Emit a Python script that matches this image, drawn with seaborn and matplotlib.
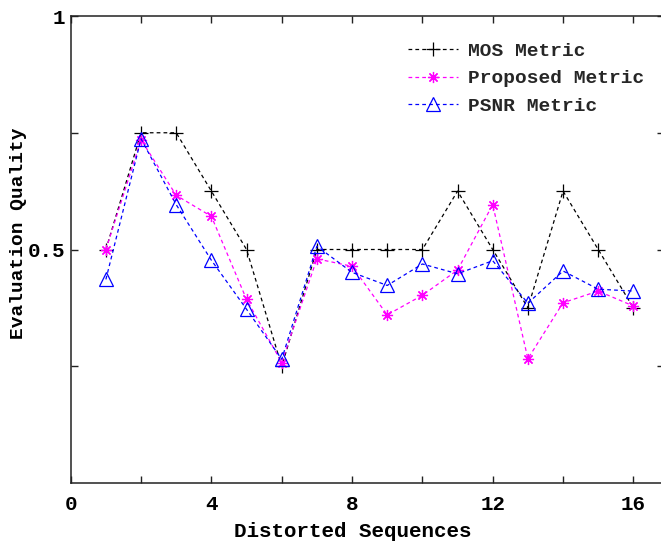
import matplotlib
matplotlib.use("Agg")
import matplotlib.pyplot as plt
import seaborn as sns
import numpy as np
import pandas as pd

# ---- data ----
sequences = list(range(1, 17))
mos_metric = [0.5, 0.75, 0.75, 0.625, 0.5, 0.25, 0.5, 0.5, 0.5, 0.5, 0.625, 0.5, 0.375, 0.625, 0.5, 0.375]
proposed_metric = [0.5, 0.735, 0.616, 0.571, 0.393, 0.258, 0.48, 0.464, 0.36, 0.402, 0.456, 0.596, 0.266, 0.386, 0.411, 0.379]
psnr_metric = [0.436, 0.737, 0.596, 0.477, 0.372, 0.265, 0.507, 0.451, 0.423, 0.469, 0.448, 0.476, 0.385, 0.454, 0.415, 0.411]

x_ticks = [0, 2, 4, 6, 8, 10, 12, 14, 16]
x_ticklabels = ["0", "", "4", "", "8", "", "12", "", "16"]
y_ticks = [0.25, 0.5, 0.75, 1.0]
y_ticklabels = ["", "0.5", "", "1"]

series_names = ["MOS Metric", "Proposed Metric", "PSNR Metric"]

sns.set_theme(style="white")
plt.rcParams["font.family"] = ["Liberation Mono", "DejaVu Sans Mono"]

fig = plt.figure(figsize=(6.61, 5.45), dpi=100)
ax = fig.add_axes([0.107, 0.1138, 1.0045 - 0.107, 0.9706 - 0.1138])

sns.lineplot(x=sequences, y=mos_metric, ax=ax, color="black", marker="+",
             markersize=10, markeredgecolor="black", markeredgewidth=0.9,
             linestyle=(0, (3, 2.5)), linewidth=0.9, label=series_names[0])
sns.lineplot(x=sequences, y=proposed_metric, ax=ax, color="#ff00ff", marker=(8, 2, 0),
             markersize=8, markeredgecolor="#ff00ff", markeredgewidth=0.9,
             linestyle=(0, (3, 2.5)), linewidth=0.9, label=series_names[1])
sns.lineplot(x=sequences, y=psnr_metric, ax=ax, color="#0000ff", marker="^",
             markersize=10, markerfacecolor="none", markeredgecolor="#0000ff",
             markeredgewidth=0.9, linestyle=(0, (3, 2.5)), linewidth=0.9,
             label=series_names[2])

ax.set_xlim(0, 16.87)
ax.set_ylim(0, 1)
ax.set_xticks(x_ticks)
ax.set_xticklabels(x_ticklabels)
ax.set_yticks(y_ticks)
ax.set_yticklabels(y_ticklabels)

for s in ax.spines.values():
    s.set_color("#222222")
    s.set_linewidth(1.1)

ax.tick_params(axis="both", direction="in", length=5, width=1, color="#222222",
               top=True, right=True, bottom=True, left=True, labelsize=15,
               labelcolor="black", pad=4)
for lab in ax.get_xticklabels() + ax.get_yticklabels():
    lab.set_fontweight("bold")
ax.tick_params(axis="x", pad=9)

ax.set_xlabel("Distorted Sequences", fontsize=15, fontweight="bold", color="black")
ax.set_ylabel("Evaluation Quality", fontsize=14, fontweight="bold", color="black")
ax.xaxis.set_label_coords(0.475, -0.083)
ax.yaxis.set_label_coords(-0.074, 0.535)

ax.grid(False)
leg = ax.legend(loc="upper left", bbox_to_anchor=(0.555, 0.96), frameon=False,
                handlelength=2.6, handletextpad=0.5, labelspacing=0.5,
                borderaxespad=0.0, prop={"weight": "bold", "size": 14})

fig.savefig("out.png", dpi=100)
